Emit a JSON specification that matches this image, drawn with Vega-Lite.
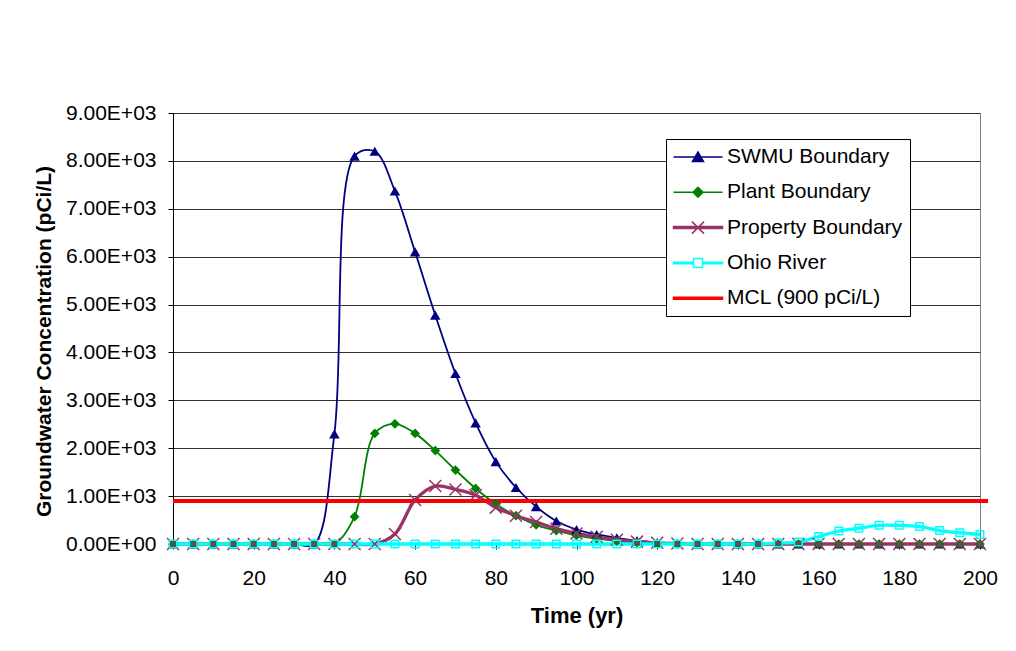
{
  "$schema": "https://vega.github.io/schema/vega-lite/v6.json",
  "width": 807,
  "height": 431,
  "autosize": {"type": "none"},
  "padding": {"left": 173, "top": 113, "right": 36, "bottom": 107},
  "background": "white",
  "config": {
    "view": {"stroke": "#808080", "strokeWidth": 1},
    "font": "Liberation Sans"
  },
  "datasets": {
    "curves": [
      {"t": 0, "SWMU Boundary": 0, "Plant Boundary": 0, "Property Boundary": 0, "Ohio River": 0},
      {"t": 5, "SWMU Boundary": 0, "Plant Boundary": 0, "Property Boundary": 0, "Ohio River": 0},
      {"t": 10, "SWMU Boundary": 0, "Plant Boundary": 0, "Property Boundary": 0, "Ohio River": 0},
      {"t": 15, "SWMU Boundary": 0, "Plant Boundary": 0, "Property Boundary": 0, "Ohio River": 0},
      {"t": 20, "SWMU Boundary": 0, "Plant Boundary": 0, "Property Boundary": 0, "Ohio River": 0},
      {"t": 25, "SWMU Boundary": 0, "Plant Boundary": 0, "Property Boundary": 0, "Ohio River": 0},
      {"t": 30, "SWMU Boundary": 0, "Plant Boundary": 0, "Property Boundary": 0, "Ohio River": 0},
      {"t": 35, "SWMU Boundary": 0, "Plant Boundary": 0, "Property Boundary": 0, "Ohio River": 0},
      {"t": 40, "SWMU Boundary": 2300, "Plant Boundary": 0, "Property Boundary": 0, "Ohio River": 0},
      {"t": 45, "SWMU Boundary": 8100, "Plant Boundary": 570, "Property Boundary": 0, "Ohio River": 0},
      {"t": 50, "SWMU Boundary": 8200, "Plant Boundary": 2310, "Property Boundary": 0, "Ohio River": 0},
      {"t": 55, "SWMU Boundary": 7370, "Plant Boundary": 2510, "Property Boundary": 210, "Ohio River": 0},
      {"t": 60, "SWMU Boundary": 6100, "Plant Boundary": 2310, "Property Boundary": 920, "Ohio River": 0},
      {"t": 65, "SWMU Boundary": 4780, "Plant Boundary": 1950, "Property Boundary": 1210, "Ohio River": 0},
      {"t": 70, "SWMU Boundary": 3560, "Plant Boundary": 1545, "Property Boundary": 1140, "Ohio River": 0},
      {"t": 75, "SWMU Boundary": 2530, "Plant Boundary": 1160, "Property Boundary": 1020, "Ohio River": 0},
      {"t": 80, "SWMU Boundary": 1720, "Plant Boundary": 835, "Property Boundary": 760, "Ohio River": 0},
      {"t": 85, "SWMU Boundary": 1180, "Plant Boundary": 590, "Property Boundary": 590, "Ohio River": 0},
      {"t": 90, "SWMU Boundary": 780, "Plant Boundary": 400, "Property Boundary": 460, "Ohio River": 0},
      {"t": 95, "SWMU Boundary": 480, "Plant Boundary": 280, "Property Boundary": 320, "Ohio River": 0},
      {"t": 100, "SWMU Boundary": 300, "Plant Boundary": 180, "Property Boundary": 220, "Ohio River": 0},
      {"t": 105, "SWMU Boundary": 200, "Plant Boundary": 110, "Property Boundary": 150, "Ohio River": 0},
      {"t": 110, "SWMU Boundary": 130, "Plant Boundary": 60, "Property Boundary": 90, "Ohio River": 0},
      {"t": 115, "SWMU Boundary": 70, "Plant Boundary": 30, "Property Boundary": 50, "Ohio River": 0},
      {"t": 120, "SWMU Boundary": 30, "Plant Boundary": 10, "Property Boundary": 25, "Ohio River": 0},
      {"t": 125, "SWMU Boundary": 10, "Plant Boundary": 0, "Property Boundary": 10, "Ohio River": 0},
      {"t": 130, "SWMU Boundary": 0, "Plant Boundary": 0, "Property Boundary": 0, "Ohio River": 0},
      {"t": 135, "SWMU Boundary": 0, "Plant Boundary": 0, "Property Boundary": 0, "Ohio River": 0},
      {"t": 140, "SWMU Boundary": 0, "Plant Boundary": 0, "Property Boundary": 0, "Ohio River": 0},
      {"t": 145, "SWMU Boundary": 0, "Plant Boundary": 0, "Property Boundary": 0, "Ohio River": 0},
      {"t": 150, "SWMU Boundary": 0, "Plant Boundary": 0, "Property Boundary": 0, "Ohio River": 20},
      {"t": 155, "SWMU Boundary": 0, "Plant Boundary": 0, "Property Boundary": 0, "Ohio River": 40},
      {"t": 160, "SWMU Boundary": 0, "Plant Boundary": 0, "Property Boundary": 0, "Ohio River": 155},
      {"t": 165, "SWMU Boundary": 0, "Plant Boundary": 0, "Property Boundary": 0, "Ohio River": 270},
      {"t": 170, "SWMU Boundary": 0, "Plant Boundary": 0, "Property Boundary": 0, "Ohio River": 330},
      {"t": 175, "SWMU Boundary": 0, "Plant Boundary": 0, "Property Boundary": 0, "Ohio River": 390},
      {"t": 180, "SWMU Boundary": 0, "Plant Boundary": 0, "Property Boundary": 0, "Ohio River": 390},
      {"t": 185, "SWMU Boundary": 0, "Plant Boundary": 0, "Property Boundary": 0, "Ohio River": 365},
      {"t": 190, "SWMU Boundary": 0, "Plant Boundary": 0, "Property Boundary": 0, "Ohio River": 280},
      {"t": 195, "SWMU Boundary": 0, "Plant Boundary": 0, "Property Boundary": 0, "Ohio River": 235},
      {"t": 200, "SWMU Boundary": 0, "Plant Boundary": 0, "Property Boundary": 0, "Ohio River": 200}
    ],
    "mcl": [
      {"t": 0, "v": 900, "s": "MCL (900 pCi/L)"},
      {"t": 202, "v": 900, "s": "MCL (900 pCi/L)"}
    ]
  },
  "encoding": {
    "x": {
      "field": "t",
      "type": "quantitative",
      "scale": {"domain": [0, 200], "nice": false},
      "axis": {
        "values": [0, 20, 40, 60, 80, 100, 120, 140, 160, 180, 200],
        "grid": false,
        "labelFont": "Liberation Sans",
        "labelFontSize": 21,
        "labelColor": "black",
        "labelPadding": 18,
        "labelFlush": false,
        "labelOverlap": false,
        "tickColor": "black",
        "tickSize": 5,
        "domainColor": "black",
        "title": "Time (yr)",
        "titleFont": "Liberation Sans",
        "titleFontSize": 22,
        "titleFontWeight": "bold",
        "titleColor": "black",
        "titleY": 78,
        "titleBaseline": "alphabetic"
      }
    },
    "y": {
      "field": "v",
      "type": "quantitative",
      "scale": {"domain": [0, 9000], "nice": false},
      "axis": {
        "values": [0, 1000, 2000, 3000, 4000, 5000, 6000, 7000, 8000, 9000],
        "labelExpr": "datum.value == 0 ? '0.00E+00' : format(datum.value / 1000, '.2f') + 'E+03'",
        "grid": true,
        "gridColor": "#333333",
        "gridOpacity": 1,
        "gridWidth": 1,
        "labelFont": "Liberation Sans",
        "labelFontSize": 21,
        "labelColor": "black",
        "labelPadding": 12,
        "labelFlush": false,
        "labelOverlap": false,
        "tickColor": "black",
        "tickSize": 5,
        "domainColor": "black",
        "title": "Groundwater Concentration (pCi/L)",
        "titleFont": "Liberation Sans",
        "titleFontSize": 21,
        "titleFontWeight": "bold",
        "titleColor": "black",
        "titleX": -129,
        "titleY": 228,
        "titleAngle": -90,
        "titleAlign": "center",
        "titleBaseline": "middle"
      }
    }
  },
  "layer": [
    {
      "data": {"name": "curves"},
      "transform": [
        {"fold": ["SWMU Boundary", "Plant Boundary", "Property Boundary", "Ohio River"], "as": ["s", "v"]},
        {"filter": {"field": "s", "oneOf": ["SWMU Boundary", "Plant Boundary"]}}
      ],
      "mark": {"type": "line", "strokeWidth": 1.8, "interpolate": "catmull-rom", "clip": false},
      "encoding": {
        "color": {
          "field": "s",
          "type": "nominal",
          "scale": {
            "domain": ["SWMU Boundary", "Plant Boundary", "Property Boundary", "Ohio River", "MCL (900 pCi/L)"],
            "range": ["#000080", "#008000", "#993366", "#00FFFF", "#FF0000"]
          },
          "legend": {
            "title": null,
            "orient": "none",
            "legendX": 493,
            "legendY": 26,
            "padding": 7,
            "strokeColor": "black",
            "fillColor": "white",
            "symbolSize": 400,
            "symbolStrokeWidth": 1.5,
            "symbolOffset": 14,
            "labelOffset": 18,
            "rowPadding": 14.3,
            "labelFont": "Liberation Sans",
            "labelFontSize": 21,
            "labelColor": "black",
            "labelLimit": 400,
            "encode": {
              "symbols": {
                "update": {
                  "shape": {"signal": "datum.value === 'SWMU Boundary' ? 'M-2.45,0H2.45M-0.55,0.45L0,-0.5L0.55,0.45Z' : datum.value === 'Plant Boundary' ? 'M-2.45,0H2.45M-0.5,0L0,-0.5L0.5,0L0,0.5Z' : datum.value === 'Property Boundary' ? 'M-2.45,-0.1H2.45V0.1H-2.45ZM-0.6,-0.6L0.6,0.6M-0.6,0.6L0.6,-0.6' : datum.value === 'Ohio River' ? 'M-2.45,-0.075H-0.45V0.075H-2.45ZM0.45,-0.075H2.45V0.075H0.45ZM-0.45,-0.45H0.45V0.45H-0.45Z' : 'M-2.45,-0.1H2.45V0.1H-2.45Z'"},
                  "fill": {"signal": "datum.value === 'SWMU Boundary' ? '#000080' : datum.value === 'Plant Boundary' ? '#008000' : datum.value === 'Property Boundary' ? '#993366' : datum.value === 'Ohio River' ? 'transparent' : '#FF0000'"},
                  "stroke": {"signal": "datum.value === 'SWMU Boundary' ? '#000080' : datum.value === 'Plant Boundary' ? '#008000' : datum.value === 'Property Boundary' ? '#993366' : datum.value === 'Ohio River' ? '#00FFFF' : '#FF0000'"},
                  "strokeWidth": {"value": 1.5},
                  "opacity": {"value": 1},
                  "fillOpacity": {"value": 1},
                  "strokeOpacity": {"value": 1}
                }
              }
            }
          }
        }
      }
    },
    {
      "data": {"name": "curves"},
      "transform": [
        {"fold": ["SWMU Boundary", "Plant Boundary", "Property Boundary", "Ohio River"], "as": ["s", "v"]},
        {"filter": {"field": "s", "oneOf": ["Property Boundary", "Ohio River"]}}
      ],
      "mark": {"type": "line", "strokeWidth": 3.3, "interpolate": "catmull-rom", "clip": false},
      "encoding": {
        "color": {"field": "s", "type": "nominal"}
      }
    },
    {
      "data": {"name": "mcl"},
      "mark": {"type": "line", "strokeWidth": 4, "clip": false},
      "encoding": {
        "color": {"field": "s", "type": "nominal"}
      }
    },
    {
      "data": {"name": "curves"},
      "transform": [
        {"fold": ["SWMU Boundary", "Plant Boundary", "Property Boundary", "Ohio River"], "as": ["s", "v"]},
        {"filter": {"field": "s", "equal": "SWMU Boundary"}}
      ],
      "mark": {"type": "point", "shape": "triangle-up", "filled": true, "size": 110, "color": "#000080", "opacity": 1, "clip": false}
    },
    {
      "data": {"name": "curves"},
      "transform": [
        {"fold": ["SWMU Boundary", "Plant Boundary", "Property Boundary", "Ohio River"], "as": ["s", "v"]},
        {"filter": {"field": "s", "equal": "Plant Boundary"}}
      ],
      "mark": {"type": "point", "shape": "diamond", "filled": true, "size": 95, "color": "#008000", "opacity": 1, "clip": false}
    },
    {
      "data": {"name": "curves"},
      "transform": [
        {"fold": ["SWMU Boundary", "Plant Boundary", "Property Boundary", "Ohio River"], "as": ["s", "v"]},
        {"filter": {"field": "s", "equal": "Property Boundary"}}
      ],
      "mark": {"type": "point", "shape": "M-1,-1L1,1M-1,1L1,-1", "filled": false, "size": 144, "strokeWidth": 1.5, "color": "#993366", "opacity": 1, "clip": false}
    },
    {
      "data": {"name": "curves"},
      "transform": [
        {"fold": ["SWMU Boundary", "Plant Boundary", "Property Boundary", "Ohio River"], "as": ["s", "v"]},
        {"filter": {"field": "s", "equal": "Ohio River"}}
      ],
      "mark": {"type": "point", "shape": "square", "filled": false, "size": 56, "strokeWidth": 1.5, "color": "#00FFFF", "opacity": 1, "clip": false}
    }
  ]
}
